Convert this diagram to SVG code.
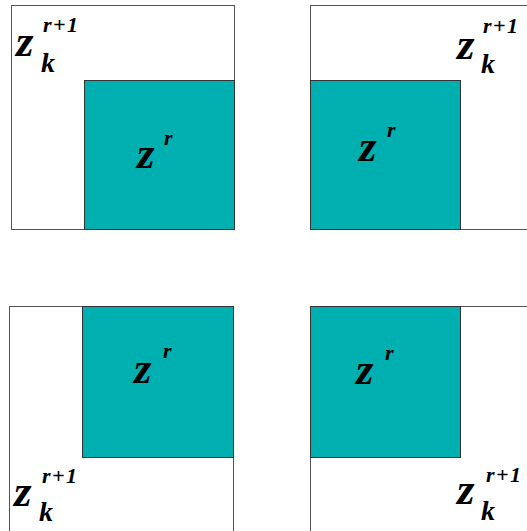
<svg xmlns="http://www.w3.org/2000/svg" width="527" height="531" viewBox="0 0 527 531">
<style>
.frame{fill:#fff;stroke:#555;stroke-width:1}
.teal{fill:#00B0B0;stroke:#333;stroke-width:1}
text{font-family:'Liberation Serif','DejaVu Serif',serif;font-weight:700;font-style:italic;fill:#000}
.z{font-size:45px}
.s{font-size:22px;letter-spacing:1.5px}
.k{font-size:28px}
.r{font-size:22px}
</style>
<rect width="527" height="531" fill="#fff"/>
<g id="panel1">
<rect class="frame" x="11.5" y="5.5" width="223" height="224"/>
<rect class="teal" x="84.5" y="80.5" width="150" height="149"/>
<text class="z" x="16" y="56">z</text><text class="s" x="43" y="32">r+1</text><text class="k" x="41" y="72">k</text>
<text class="z" x="137" y="168">z</text><text class="r" x="164" y="145">r</text>
</g>
<g id="panel2">
<rect class="frame" x="310.5" y="5.5" width="230" height="224"/>
<rect class="teal" x="310.5" y="80.5" width="150" height="149"/>
<text class="z" x="457" y="59">z</text><text class="s" x="483" y="33">r+1</text><text class="k" x="481" y="73">k</text>
<text class="z" x="359" y="161">z</text><text class="r" x="387" y="137">r</text>
</g>
<g id="panel3">
<rect class="frame" x="9.5" y="306.5" width="224" height="240"/>
<rect class="teal" x="82.5" y="306.5" width="151" height="151"/>
<text class="z" x="14" y="506">z</text><text class="s" x="42" y="483">r+1</text><text class="k" x="39" y="521">k</text>
<text class="z" x="134" y="383">z</text><text class="r" x="163" y="358">r</text>
</g>
<g id="panel4">
<rect class="frame" x="310.5" y="306.5" width="230" height="240"/>
<rect class="teal" x="310.5" y="306.5" width="150" height="151"/>
<text class="z" x="356" y="384">z</text><text class="r" x="385" y="360">r</text>
<text class="z" x="457" y="504">z</text><text class="s" x="486" y="482">r+1</text><text class="k" x="481" y="520">k</text>
</g>
<g id="connectors"></g>
</svg>
